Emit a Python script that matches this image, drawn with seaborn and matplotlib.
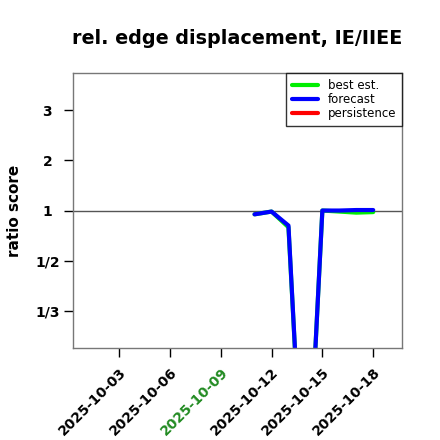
import numpy as np
import pandas as pd
import matplotlib
matplotlib.use("Agg")
import matplotlib.pyplot as plt
import matplotlib.dates as mdates
import seaborn as sns

# data (ratio scores)
dates = pd.date_range("2025-10-11", "2025-10-18", freq="D")
best_est = [0.93, 0.98, 0.75, 0.13, 1.00, 0.98, 0.96, 0.97]
forecast = [0.93, 0.98, 0.77, 0.13, 1.00, 1.00, 1.01, 1.01]
persistence = [np.nan] * len(dates)

tick_dates = pd.to_datetime(["2025-10-03", "2025-10-06", "2025-10-09",
                             "2025-10-12", "2025-10-15", "2025-10-18"])
tick_colors = ["black", "black", "#228B22", "black", "black", "black"]
y_ticks = [3, 2, 1, 1 / 2, 1 / 3]
y_labels = ["3", "2", "1", "1/2", "1/3"]


def fwd(r):
    r = np.clip(np.asarray(r, dtype=float), 1e-6, None)
    return np.where(r >= 1, r - 1, 1 - 1 / r)


def inv(t):
    t = np.asarray(t, dtype=float)
    return np.where(t >= 0, t + 1, 1 / (1 - np.minimum(t, 0)))


df = pd.DataFrame({"date": dates, "best est.": best_est, "forecast": forecast})

sns.set_style("white")
plt.rcParams["font.family"] = ["DejaVu Sans"]
plt.rcParams.update({"text.color": "black", "axes.labelcolor": "black",
                     "xtick.color": "black", "ytick.color": "black"})

fig = plt.figure(figsize=(4.4, 4.4), dpi=100)
ax = fig.add_axes([0.166, 0.209, 0.748, 0.625])

ax.axhline(1, color="#555555", lw=1, zorder=1)
sns.lineplot(data=df, x="date", y="best est.", color="#00ee00", lw=3,
             label="best est.", ax=ax)
sns.lineplot(data=df, x="date", y="forecast", color="#0000ff", lw=3,
             label="forecast", ax=ax)
ax.plot(dates, persistence, color="#ff0000", lw=3, label="persistence")

ax.set_ylim(1 / 3.74, 3.74)
ax.set_yscale("function", functions=(fwd, inv))
ax.set_ylim(1 / 3.74, 3.74)
ax.set_yticks(y_ticks)
ax.set_yticklabels(y_labels)
ax.yaxis.set_minor_locator(matplotlib.ticker.NullLocator())
ax.set_xlim(pd.Timestamp("2025-09-30 07:00"), pd.Timestamp("2025-10-19 17:00"))
ax.set_xticks(tick_dates)
ax.xaxis.set_major_formatter(mdates.DateFormatter("%Y-%m-%d"))
for lab, c in zip(ax.get_xticklabels(), tick_colors):
    lab.set_color(c)
    lab.set_rotation(45)
    lab.set_ha("right")
    lab.set_rotation_mode("anchor")
    lab.set_fontweight("bold")
for lab in ax.get_yticklabels():
    lab.set_fontweight("bold")
    lab.set_ha("center")

ax.tick_params(axis="both", which="major", direction="out", length=6.5,
               width=1, color="black", labelsize=10, left=True, bottom=True)
ax.tick_params(axis="y", pad=12)
ax.tick_params(axis="x", pad=6)
for s in ax.spines.values():
    s.set_color("#777777")
    s.set_linewidth(1)

ax.set_xlabel("")
ax.set_ylabel("ratio score", fontsize=11, fontweight="bold")
ax.yaxis.set_label_coords(-0.155, 0.5)
fig.suptitle("rel. edge displacement, IE/IIEE", x=0.54, y=0.935,
             fontsize=13.8, fontweight="bold")

leg = ax.legend(loc="upper right", frameon=True, fancybox=False, fontsize=8.5,
                borderaxespad=0.0, handlelength=2.2, labelspacing=0.1,
                borderpad=0.5, handletextpad=0.8)
leg.get_frame().set_edgecolor("black")
leg.get_frame().set_linewidth(1)

fig.savefig("out.png", dpi=100)
plt.close(fig)
